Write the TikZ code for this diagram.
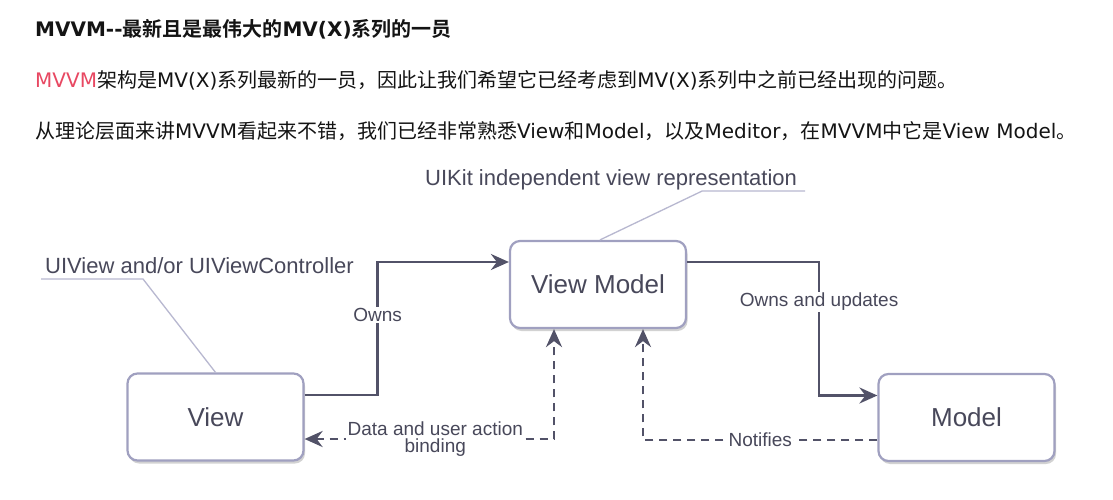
\documentclass[tikz,border=0pt]{standalone}
\usepackage{fontspec}
\setmainfont{Liberation Sans}
\newfontfamily\cjk{Noto Sans CJK SC}[BoldFont={Noto Sans CJK SC Bold}]
\newfontfamily\verd{DejaVu Sans}
\usetikzlibrary{arrows.meta, positioning, shadows}

\definecolor{boxline}{RGB}{160,160,192}
\definecolor{linkline}{RGB}{82,82,104}
\definecolor{labeltext}{RGB}{72,72,90}
\definecolor{notegray}{RGB}{184,184,208}
\definecolor{mvvmred}{RGB}{232,72,98}
\definecolor{bodytext}{RGB}{20,20,20}

\newcommand{\en}[1]{{\verd #1}}

\begin{document}
\begin{tikzpicture}[x=1pt, y=-1pt,
  >={Stealth[length=18pt, width=16pt, inset=6pt]},
  block/.style={draw=boxline, line width=2.2pt, rounded corners=10pt, fill=white,
    minimum width=176pt, minimum height=87pt, text=labeltext,
    font=\fontsize{26}{30}\selectfont,
    drop shadow={shadow xshift=1.5pt, shadow yshift=-3pt, fill=black!35, opacity=.5}},
  link/.style={draw=linkline, line width=2.6pt, ->},
  dlink/.style={link, dash pattern=on 8pt off 6pt},
  lbl/.style={fill=white, text=labeltext, font=\fontsize{19}{17}\selectfont, inner sep=1.5pt, align=center},
  note/.style={text=labeltext, font=\fontsize{22}{26}\selectfont, inner sep=0pt},
  noteline/.style={draw=notegray, line width=1.3pt},
  body/.style={anchor=base west, inner sep=0pt, text=bodytext, font=\fontsize{20}{24}\selectfont\cjk}]

\useasboundingbox[fill=white] (0,0) rectangle (1113,500);

% text above the diagram
\node[body, font=\fontsize{20}{24}\selectfont\cjk\bfseries] (title) at (35,37)
  {\en{MVVM--}最新且是最伟大的\en{MV(X)}系列的一员};
\node[body] (line1) at (35,88)
  {\textcolor{mvvmred}{\en{MVVM}}架构是\en{MV(X)}系列最新的一员，因此让我们希望它已经考虑到\en{MV(X)}系列中之前已经出现的问题。};
\node[body] (line2) at (35,139)
  {从理论层面来讲\en{MVVM}看起来不错，我们已经非常熟悉\en{View}和\en{Model}，以及\en{Meditor}，在\en{MVVM}中它是\en{View Model}。};

% boxes
\node[block] (view) at (215.5,417) {View};
\node[block] (vm) at (598,284.5) {View Model};
\node[block] (model) at (966.5,417.5) {Model};

% notes
\node[note, anchor=base west] (uiviewnote) at (45,273) {UIView and/or UIViewController};
\draw[noteline] ([xshift=-4pt, yshift=-6pt]uiviewnote.base west) -- ++(102,0) -- (view.north);
\node[note, anchor=base west] (uikitnote) at (425,185) {UIKit independent view representation};
\draw[noteline] ([xshift=8pt, yshift=-6pt]uikitnote.base east) -- ++(-103,0) -- ([xshift=2pt]vm.north);

% links
\draw[link] ([yshift=22pt]view.east) -- ++(73,0)
  |- node[lbl, pos=0.3] {Owns} ([yshift=22.5pt]vm.west);
\draw[link] ([yshift=22.5pt]vm.east) -- ++(132,0)
  |- node[lbl, pos=0.15] {Owns and updates} ([yshift=22pt]model.west);
\draw[dlink, <->] ([yshift=-22pt]view.east)
  -| node[lbl, pos=0.262] {Data and user action\\binding} ([xshift=-44pt]vm.south);
\draw[dlink] ([yshift=-22.5pt]model.west)
  -| node[lbl, pos=0.25] {Notifies} ([xshift=45pt]vm.south);
\end{tikzpicture}
\end{document}
